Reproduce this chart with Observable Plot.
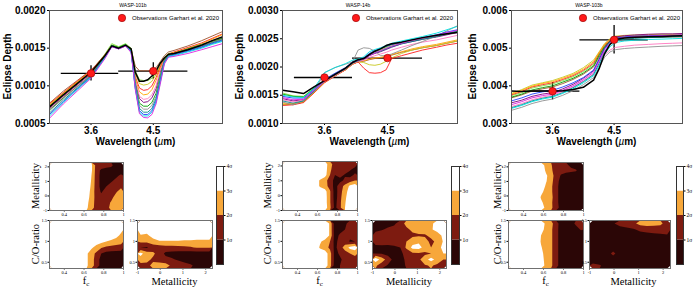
<!DOCTYPE html>
<html><head><meta charset="utf-8">
<script src="https://cdn.jsdelivr.net/npm/d3@7"></script>
<script src="https://cdn.jsdelivr.net/npm/@observablehq/plot@0.6"></script>
<style>
body{margin:0;background:#fff;}
#fig{position:relative;width:696px;height:289px;overflow:hidden;background:#fff;}
</style></head><body><div id="fig"></div><script>
// ---------------- DATA ----------------
const planetNames = ["WASP-101b", "WASP-14b", "WASP-103b"];
const waveTicks = [3.6, 4.5];
// observations (Garhart et al. 2020), eclipse depth in ppm
const bandWave = [3.6, 4.5];
const bandLo = [3.17, 4.0];
const bandHi = [4.0, 5.0];
const obs101 = [1165, 1195], err101 = [100, 110];
const obs14 = [1814, 2158], err14 = [45, 45];
const obs103 = [3858, 5222], err103 = [230, 380];
// model spectra (ppm); order: brown, lime, yellow, red, orange, purple, pink, green, gray, teal, blue, cyan, magenta
const wave101 = [3.0,3.2,3.4,3.6,3.8,3.9,4.0,4.1,4.18,4.24,4.3,4.36,4.42,4.48,4.54,4.6,4.66,4.72,4.8,5.0,5.2,5.35,5.5];
const models101 = [
 [770,930,1070,1210,1400,1520,1500,1530,1480,1260,1200,1200,1200,1210,1240,1320,1400,1450,1470,1530,1600,1660,1720],
 [740,900,1050,1190,1420,1560,1520,1560,1500,1200,1080,1070,1070,1100,1170,1280,1380,1430,1440,1480,1540,1580,1620],
 [730,890,1040,1180,1410,1540,1510,1540,1490,1160,1030,1010,1020,1060,1150,1270,1370,1420,1440,1490,1540,1590,1640],
 [760,910,1060,1200,1410,1530,1500,1530,1480,1120,970,940,950,1000,1110,1250,1370,1420,1450,1510,1570,1630,1690],
 [750,900,1050,1190,1400,1530,1500,1530,1480,1100,920,880,890,950,1070,1230,1360,1420,1440,1500,1560,1620,1680],
 [700,860,1010,1160,1390,1530,1500,1540,1470,1060,830,780,790,840,960,1180,1350,1410,1430,1480,1530,1580,1630],
 [690,850,1000,1150,1380,1520,1490,1530,1470,1070,860,820,830,880,1000,1200,1350,1410,1430,1490,1550,1600,1650],
 [680,840,990,1140,1390,1540,1510,1550,1470,1030,770,730,730,780,900,1130,1340,1410,1430,1490,1550,1590,1630],
 [670,830,990,1140,1380,1530,1500,1540,1460,1010,740,690,690,740,860,1100,1330,1400,1430,1480,1540,1580,1620],
 [640,810,970,1130,1380,1530,1500,1540,1460,990,700,650,650,700,830,1080,1320,1400,1420,1470,1520,1570,1610],
 [620,790,960,1120,1370,1520,1490,1530,1450,970,670,620,620,670,800,1060,1310,1390,1410,1460,1510,1560,1600],
 [600,780,950,1110,1370,1530,1500,1540,1450,960,650,600,600,650,780,1040,1300,1390,1400,1450,1500,1550,1590],
 [570,760,930,1100,1360,1520,1490,1530,1440,950,630,580,575,620,760,1020,1290,1380,1390,1430,1480,1520,1560]
];
const best101 = [720,880,1030,1180,1400,1530,1500,1540,1490,1180,1060,1060,1080,1130,1200,1300,1370,1420,1430,1480,1540,1600,1650];

const wave14 = [3.0,3.15,3.3,3.45,3.6,3.75,3.9,4.0,4.08,4.16,4.24,4.32,4.4,4.48,4.56,4.7,4.85,5.0,5.2,5.35,5.5];
const models14 = [
 [1330,1340,1380,1550,1730,1850,1950,2050,2090,2100,2130,2150,2160,2180,2210,2260,2300,2340,2380,2420,2460],
 [1540,1490,1480,1630,1770,1880,1980,2080,2120,2150,2230,2270,2300,2340,2380,2420,2460,2500,2540,2580,2620],
 [1340,1340,1380,1550,1730,1840,1950,2050,2090,2080,2040,2030,2050,2100,2160,2240,2300,2340,2380,2420,2460],
 [1320,1330,1370,1540,1720,1840,1950,2050,2090,1980,1900,1890,1900,1950,2150,2200,2250,2300,2350,2390,2420],
 [1360,1350,1390,1550,1730,1850,1960,2060,2100,2110,2140,2160,2170,2190,2220,2270,2320,2360,2400,2440,2480],
 [1440,1400,1420,1580,1740,1860,1970,2070,2110,2130,2200,2240,2270,2310,2350,2410,2450,2490,2530,2570,2610],
 [1420,1380,1410,1570,1740,1850,1960,2060,2100,2120,2170,2200,2230,2260,2300,2350,2400,2440,2480,2520,2560],
 [1520,1480,1470,1620,1760,1870,1970,2070,2120,2150,2230,2280,2320,2360,2400,2440,2480,2510,2550,2590,2630],
 [1380,1330,1400,1560,1900,1990,2050,2090,2300,2340,2330,2280,2200,2200,2230,2300,2380,2450,2550,2640,2730],
 [1400,1360,1400,1570,1750,1860,1970,2070,2110,2140,2210,2250,2280,2320,2360,2410,2450,2490,2540,2590,2640],
 [1480,1450,1450,1600,1780,1890,1990,2090,2130,2160,2240,2290,2330,2370,2400,2440,2480,2520,2570,2620,2660],
 [1500,1470,1460,1620,1900,1990,2060,2120,2140,2180,2270,2310,2340,2380,2420,2460,2500,2540,2600,2660,2720],
 [1460,1420,1430,1590,1750,1870,1980,2080,2120,2140,2200,2250,2290,2330,2370,2420,2470,2510,2560,2610,2650]
];
const best14 = [1590,1560,1530,1650,1760,1870,1980,2080,2130,2150,2220,2280,2320,2380,2410,2440,2480,2520,2560,2590,2610];

const wave103 = [3.0,3.15,3.3,3.45,3.6,3.75,3.9,4.05,4.2,4.28,4.36,4.44,4.52,4.65,4.8,5.0,5.2,5.35,5.5];
const models103 = [
 [3680,3760,3860,3920,3970,4060,4170,4310,4500,4760,5010,5160,5240,5270,5280,5290,5290,5300,5300],
 [3740,3820,3940,4000,4050,4140,4240,4380,4570,4830,5060,5190,5260,5290,5300,5310,5320,5330,5340],
 [3800,3900,4020,4080,4140,4230,4330,4480,4680,4900,5120,5250,5320,5340,5350,5360,5370,5370,5380],
 [3760,3850,3970,4030,4080,4170,4270,4410,4600,4850,5080,5200,5270,5290,5300,5300,5300,5310,5320],
 [3780,3880,3990,4060,4110,4200,4300,4440,4640,4880,5100,5230,5300,5320,5330,5340,5340,5350,5350],
 [3550,3620,3720,3780,3820,3920,4040,4200,4400,4700,5000,5200,5300,5330,5350,5370,5380,5380,5390],
 [3450,3530,3630,3700,3750,3850,3970,4130,4320,4560,4820,4950,5020,5050,5080,5100,5120,5130,5140],
 [3700,3780,3890,3950,4000,4100,4200,4340,4530,4800,5040,5180,5260,5280,5290,5300,5310,5310,5320],
 [3350,3430,3530,3600,3650,3750,3870,4030,4220,4480,4760,4900,4960,4990,5010,5030,5050,5060,5070],
 [3420,3500,3600,3670,3720,3820,3950,4110,4300,4600,4900,5100,5200,5240,5260,5280,5290,5300,5310],
 [3600,3680,3780,3840,3880,3970,4080,4220,4420,4700,4980,5160,5260,5300,5320,5330,5340,5340,5350],
 [3400,3480,3580,3650,3700,3800,3920,4080,4270,4540,4840,5040,5150,5190,5210,5230,5240,5250,5260],
 [3500,3580,3680,3740,3780,3880,4000,4160,4360,4640,4940,5130,5240,5280,5300,5320,5330,5340,5350]
];
const best103 = [3860,3850,3860,3860,3860,3870,3900,3960,4150,4450,4850,5100,5230,5270,5290,5300,5310,5320,5330];

// retrieval significance maps (sigma), rows listed top -> bottom
const fcDomain = [0.25, 1.0], metDomain = [-1, 2.3], coDomain = [0.35, 1.5];
const fcTicks = [0.4, 0.6, 0.8, 1], metTicks = [-1, 0, 1, 2], coTicks = [0.5, 1, 1.5];
const sigmaFloors = [0, 1, 2, 3];
const sigmaTicks = [1, 2, 3, 4];

const g101FcMet = [
 [4,4,4,4,4,4,4,4,3.2,1.6,1.5,1.4,1.2,0.6,0.5],
 [4,4,4,4,4,4,4,4,3.2,1.5,0.8,0.6,0.6,0.5,0.5],
 [4,4,4,4,4,4,4,4,3.0,1.5,0.7,0.5,0.6,0.8,1.2],
 [4,4,4,4,4,4,4,4,2.9,1.5,0.7,0.6,0.9,1.3,1.5],
 [4,4,4,4,4,4,4,3.8,2.8,1.5,0.7,1.0,1.4,1.6,1.8],
 [4,4,4,4,4,4,4,3.6,2.7,1.5,0.9,1.4,1.6,1.9,2.4],
 [4,4,4,4,4,4,4,3.5,2.6,1.6,1.3,1.5,1.7,2.4,2.6],
 [4,4,4,4,4,4,4,3.3,2.5,1.6,1.5,1.6,2.1,2.6,2.6],
 [4,4,4,4,4,4,4,3.2,2.4,1.6,1.5,1.6,2.3,2.6,2.6]
];
const g101FcCo = [
 [4,4,4,4,4,4,4,4,4,4,4,4,4,4,3.6],
 [4,4,4,4,4,4,4,4,4,4,4,4,4,3.7,3.3],
 [4,4,4,4,4,4,4,4,4,4,4,4,3.6,3.3,2.8],
 [4,4,4,4,4,4,4,4,4,3.6,3.3,3.0,2.8,2.6,2.4],
 [4,4,4,4,4,4,4,3.8,3.2,2.6,2.1,1.8,1.7,1.6,1.5],
 [4,4,4,4,4,4,4,3.2,2.4,1.8,1.0,0.7,0.6,0.6,0.6],
 [4,4,4,4,4,4,4,3.2,2.4,1.6,0.6,0.4,0.4,0.4,0.4],
 [4,4,4,4,4,4,4,3.2,2.4,1.6,0.6,0.4,0.4,0.4,0.4]
];
const g101MetCo = [
 [4,4,4,4,4,4,4,4,4,4,4,4],
 [3.6,3.5,3.8,4,4,4,4,4,4,4,4,4],
 [2.9,2.8,3.4,3.7,3.7,3.7,3.7,3.7,3.7,3.7,3.7,3.7],
 [2.2,2.2,2.6,2.9,2.9,2.9,2.9,2.8,2.8,2.7,2.7,2.7],
 [1.0,0.9,1.4,1.5,1.6,1.6,1.7,1.8,1.9,2.1,2.1,2.1],
 [3.3,2.5,2.2,1.5,0.8,0.7,0.6,0.5,0.5,0.4,0.4,0.4],
 [2.6,2.3,1.8,1.5,1.3,1.1,0.9,0.7,0.6,0.5,0.4,0.4],
 [1.6,1.7,2.3,2.5,2.4,1.8,1.5,1.3,1.1,0.8,0.5,0.4]
];
const g14FcMet = [
 [4,4,4,4,4,4,4,4,3.5,2.4,1.5,1.5,1.5,1.5,1.5],
 [4,4,4,4,4,4,4,4,3.5,2.2,1.4,1.4,1.4,1.1,0.6],
 [4,4,4,4,4,4,4,4,3.4,2.0,1.0,1.3,0.9,0.6,1.2],
 [4,4,4,4,4,4,4,2.8,2.3,1.6,0.6,0.7,1.2,1.6,2.0],
 [4,4,4,4,4,4,4,2.8,2.4,1.6,0.6,1.5,2.3,3.2,3.6],
 [4,4,4,4,4,4,4,3.8,3.4,2.1,0.5,1.6,2.6,3.5,4],
 [4,4,4,4,4,4,4,4,3.5,2.1,0.5,1.7,2.8,3.6,4],
 [4,4,4,4,4,4,4,4,3.5,2.1,0.6,1.8,2.9,3.8,4],
 [4,4,4,4,4,4,4,4,3.6,2.2,0.7,1.8,3.0,4,4]
];
const g14FcCo = [
 [4,4,4,4,4,4,4,4,4,2.8,0.4,0.5,0.8,1.4,1.6],
 [4,4,4,4,4,4,4,4,4,2.8,0.4,0.6,1.0,1.5,1.6],
 [4,4,4,4,4,4,4,4,4,2.8,0.5,1.2,1.5,1.2,1.4],
 [4,4,4,4,4,4,4,3.2,2.5,2.0,0.6,1.5,1.5,0.9,1.0],
 [4,4,4,4,4,4,4,2.8,2.4,1.8,0.7,1.6,2.4,3.3,3.6],
 [4,4,4,4,4,4,4,4,3.6,2.4,0.6,1.2,1.6,2.0,2.3],
 [4,4,4,4,4,4,4,4,3.6,2.4,0.6,0.8,1.4,1.6,1.6],
 [4,4,4,4,4,4,4,4,3.6,2.4,0.5,1.0,1.5,1.7,1.7]
];
const g14MetCo = [
 [0.5,0.5,0.6,0.8,1.5,2.3,2.5,2.6,2.6,2.8,3.4,3.8],
 [0.7,0.9,1.2,1.4,1.6,1.8,2.2,2.3,2.4,2.9,3.3,3.6],
 [1.5,1.6,1.6,1.6,1.7,1.7,1.8,1.9,1.9,2.2,2.6,3.2],
 [1.6,1.7,1.7,1.7,1.8,2.0,2.6,2.8,2.3,1.8,2.2,3.1],
 [0.6,0.6,0.5,0.7,1.0,2.2,3.3,3.4,2.6,2.0,2.4,3.4],
 [1.0,0.9,0.7,0.6,0.8,1.3,1.8,1.9,1.8,2.0,2.3,3.0],
 [3.6,2.6,1.5,0.7,0.6,1.2,1.6,1.8,2.6,3.4,2.6,2.0],
 [2.2,1.4,0.9,0.5,0.6,1.1,1.5,1.6,1.9,2.1,1.8,1.6]
];
const g103FcMet = [
 [4,4,4,4,4,4,3.7,2.6,2.1,1.5,1.4,1.2,0.8,0.5,0.4],
 [4,4,4,4,4,4,3.9,2.8,2.2,1.5,1.3,1.3,1.2,1.1,0.4],
 [4,4,4,4,4,4,4,3.2,2.4,1.6,0.9,0.6,0.5,0.4,0.4],
 [4,4,4,4,4,4,4,3.1,2.3,1.5,0.6,0.4,0.4,0.4,0.4],
 [4,4,4,4,4,4,3.8,2.8,2.2,1.4,0.5,0.4,0.4,0.4,0.4],
 [4,4,4,4,4,4,3.3,2.6,2.2,1.4,0.5,0.4,0.4,0.4,0.4],
 [4,4,4,4,4,4,2.9,2.5,2.3,1.4,0.5,0.4,0.4,0.4,0.4],
 [4,4,4,4,4,4,3.2,2.6,2.2,1.4,0.5,0.4,0.4,0.4,0.4],
 [4,4,4,4,4,4,3.6,2.7,2.2,1.5,0.6,0.4,0.4,0.4,0.4]
];
const g103FcCo = [
 [4,4,4,4,4,4,3.8,2.7,2.3,1.5,0.5,0.5,0.6,1.2,1.5],
 [4,4,4,4,4,4,3.5,2.6,2.2,1.4,0.5,0.4,0.4,0.6,1.1],
 [4,4,4,4,4,4,3.0,2.5,2.2,1.4,0.5,0.4,0.4,0.4,0.4],
 [4,4,4,4,4,4,2.9,2.5,2.2,1.4,0.5,0.4,0.4,0.4,0.4],
 [4,4,4,4,4,4,3.1,2.5,2.2,1.4,0.5,0.4,0.4,0.4,0.4],
 [4,4,4,4,4,4,3.3,2.6,2.2,1.4,0.5,0.4,0.4,0.4,0.4],
 [4,4,4,4,4,4,3.5,2.6,2.2,1.4,0.5,0.4,0.4,0.4,0.4],
 [4,4,4,4,4,4,3.6,2.7,2.2,1.4,0.5,0.4,0.4,0.4,0.4]
];
const g103MetCo = [
 [0.5,0.5,0.6,0.9,1.4,1.6,1.8,2.3,2.4,2.3,2.2,1.6],
 [0.4,0.4,0.4,0.4,0.5,0.7,0.9,1.2,1.4,1.5,1.5,1.5],
 [0.4,0.4,0.4,0.4,0.4,0.4,0.5,0.6,0.6,0.7,0.8,0.9],
 [0.4,0.4,0.4,0.4,0.4,0.4,0.4,0.4,0.5,0.5,0.6,0.7],
 [0.4,0.4,0.4,0.4,0.4,0.4,0.4,0.4,0.4,0.4,0.4,0.4],
 [0.4,0.4,0.4,1.3,0.4,0.4,0.4,0.4,0.4,0.4,0.4,0.4],
 [0.4,0.4,0.4,0.4,0.4,0.4,0.4,0.4,0.4,0.4,0.4,0.4],
 [1.3,1.1,0.6,0.4,0.4,0.4,0.4,0.4,0.4,0.4,0.4,0.4]
];

// ---------------- STYLES ----------------
const modelColors = ["#a0522d","#7fe040","#c8c820","#ff1f1f","#ffa500","#800080","#ff77c0","#00a000","#909090","#008b8b","#2040ff","#00e0e0","#e020e0"];
const sigmaColors = ["#2b0606","#7d1b10","#f7a73a","#ffffff"];
const sansBold = {fontFamily: "'Liberation Sans', Arial, sans-serif", fontWeight: "bold", fontSize: "10px"};
const serif = {fontFamily: "'Liberation Serif', 'Times New Roman', serif", fontSize: "4.5px"};

const fig = document.getElementById("fig");
function place(svg, left, top) {
  svg.style.position = "absolute";
  svg.style.left = left + "px";
  svg.style.top = top + "px";
  svg.style.background = "transparent";
  svg.style.overflow = "visible";
  svg.style.maxWidth = "none";
  fig.appendChild(svg);
}

// ---------------- TOP ROW ----------------
const topPanels = [
  {left: 0, ml: 49, mr: 10, wave: wave101, models: models101, best: best101, obs: obs101, err: err101, yDomain: [500, 2000], yTicks: [500, 1000, 1500, 2000], dec: 4},
  {left: 232, ml: 50, mr: 7, wave: wave14, models: models14, best: best14, obs: obs14, err: err14, yDomain: [1000, 3000], yTicks: [1000, 1500, 2000, 2500, 3000], dec: 4},
  {left: 464, ml: 47, mr: 14, wave: wave103, models: models103, best: best103, obs: obs103, err: err103, yDomain: [3000, 6000], yTicks: [3000, 4000, 5000, 6000], dec: 3}
];
topPanels.forEach(p => {
  const marks = [];
  const obs = bandWave.map((w, i) => ({w, lo: bandLo[i], hi: bandHi[i], d: p.obs[i], e: p.err[i]}));
  marks.push(Plot.ruleY(obs, {x1: "lo", x2: "hi", y: "d", stroke: "black", strokeWidth: 1.3}));
  marks.push(Plot.ruleX(obs, {x: "w", y1: o => o.d - o.e, y2: o => o.d + o.e, stroke: "black", strokeWidth: 1.3}));
  p.models.forEach((vals, k) => {
    marks.push(Plot.line(vals.map((d, i) => ({w: p.wave[i], d})), {x: "w", y: "d", stroke: modelColors[k], strokeWidth: 0.9, clip: true}));
  });
  marks.push(Plot.line(p.best.map((d, i) => ({w: p.wave[i], d})), {x: "w", y: "d", stroke: "black", strokeWidth: 1.5, clip: true}));
  marks.push(Plot.dot(obs, {x: "w", y: "d", r: 3.8, fill: "#ff1a1a", stroke: "#900000", strokeWidth: 0.6}));
  marks.push(Plot.frame({stroke: "#555", strokeWidth: 1}));
  const svg = Plot.plot({
    width: 232, height: 150, marginLeft: p.ml, marginRight: p.mr, marginTop: 10, marginBottom: 27,
    x: {domain: [3.0, 5.5], ticks: waveTicks, tickFormat: d => d.toFixed(1), tickSize: 2, tickPadding: 1.5, label: null},
    y: {domain: p.yDomain, ticks: p.yTicks, tickFormat: d => (d / 1e6).toFixed(p.dec), tickSize: 2, tickPadding: 2, label: null},
    style: sansBold,
    marks
  });
  place(svg, p.left, 0);
});

// ---------------- BOTTOM ROW ----------------
const fmt = d => String(d);
function contourPanel(grid, xDom, yDom, xTicks, yTicks, box) {
  const rows = grid.length, cols = grid[0].length;
  const flat = grid.slice().reverse().flat();
  const ml = 24, mr = 4, mt = 4, mb = 12;
  const w = box[1] - box[0], h = box[3] - box[2];
  const svg = Plot.plot({
    width: w + ml + mr, height: h + mt + mb, marginLeft: ml, marginRight: mr, marginTop: mt, marginBottom: mb,
    x: {domain: xDom, ticks: xTicks, tickFormat: fmt, tickSize: 1.5, tickPadding: 1, label: null},
    y: {domain: yDom, ticks: yTicks, tickFormat: fmt, tickSize: 1.5, tickPadding: 1, label: null},
    color: {type: "threshold", domain: [1, 2, 3], range: sigmaColors},
    style: serif,
    marks: [
      Plot.contour(flat, {width: cols, height: rows, x1: xDom[0], x2: xDom[1], y1: yDom[0], y2: yDom[1], fill: Plot.identity, thresholds: sigmaFloors, clip: true}),
      Plot.frame({stroke: "#707070", strokeWidth: 1})
    ]
  });
  place(svg, box[0] - ml, box[2] - mt);
}
function colorbar(box) {
  const bands = sigmaFloors.map(lo => ({lo, hi: lo + 1}));
  const w = box[1] - box[0], h = box[3] - box[2];
  const svg = Plot.plot({
    width: w + 16, height: h + 8, marginLeft: 0, marginRight: 16, marginTop: 4, marginBottom: 4,
    y: {domain: [0, 4], ticks: sigmaTicks, tickFormat: d => d + "σ", axis: "right", tickSize: 1.5, tickPadding: 1.5, label: null},
    color: {type: "threshold", domain: [1, 2, 3], range: sigmaColors},
    style: {fontFamily: "'Liberation Serif', serif", fontSize: "5.5px"},
    marks: [
      Plot.rect(bands, {y1: "lo", y2: "hi", fill: "lo"}),
      Plot.frame({stroke: "#333", strokeWidth: 1})
    ]
  });
  place(svg, box[0], box[2] - 4);
}
const groups = [
  {fm: g101FcMet, fc: g101FcCo, mc: g101MetCo, up: [49,123,162,210], ll: [49,123,220,268], lr: [137,212,220,268], cb: [216,223,166,264]},
  {fm: g14FcMet, fc: g14FcCo, mc: g14MetCo, up: [282,357,161,210], ll: [282,357,220,268], lr: [372,446,220,268], cb: [451,459,166,264]},
  {fm: g103FcMet, fc: g103FcCo, mc: g103MetCo, up: [508,583,162,210], ll: [508,583,220,268], lr: [589,670,220,268], cb: [676,683,166,264]}
];
groups.forEach(g => {
  contourPanel(g.fm, fcDomain, metDomain, fcTicks, metTicks, g.up);
  contourPanel(g.fc, fcDomain, coDomain, fcTicks, coTicks, g.ll);
  contourPanel(g.mc, metDomain, coDomain, metTicks, coTicks, g.lr);
  colorbar(g.cb);
});

// ---------------- LABELS / LEGENDS ----------------
const ov = d3.create("svg").attr("width", 696).attr("height", 289)
  .style("position", "absolute").style("left", "0px").style("top", "0px").style("overflow", "visible");
const titleX = [133, 358, 589];
const yLabX = [7.5, 239.5, 472];
const xLabX = [135.5, 369.5, 596.5];
const legDotX = [122, 356, 583];
planetNames.forEach((name, i) => {
  ov.append("text").attr("x", titleX[i]).attr("y", 5.5).attr("dy", "0.35em").attr("text-anchor", "middle")
    .style("font-family", "'Liberation Sans', Arial, sans-serif").style("font-size", "5px").text(name);
  ov.append("text").attr("transform", `translate(${yLabX[i]},66.5) rotate(-90)`).attr("dy", "0.35em").attr("text-anchor", "middle")
    .style("font-family", "'Liberation Sans', Arial, sans-serif").style("font-weight", "bold").style("font-size", "10px").text("Eclipse Depth");
  const xl = ov.append("text").attr("x", xLabX[i]).attr("y", 141.5).attr("dy", "0.35em").attr("text-anchor", "middle")
    .style("font-family", "'Liberation Sans', Arial, sans-serif").style("font-weight", "bold").style("font-size", "10px");
  xl.append("tspan").text("Wavelength (");
  xl.append("tspan").style("font-style", "italic").style("font-weight", "normal").text("µ");
  xl.append("tspan").text("m)");
  ov.append("circle").attr("cx", legDotX[i]).attr("cy", 18).attr("r", 3.7).attr("fill", "#ff1a1a").attr("stroke", "#900000").attr("stroke-width", 0.6);
  ov.append("text").attr("x", legDotX[i] + 10).attr("y", 18).attr("dy", "0.35em")
    .style("font-family", "'Liberation Sans', Arial, sans-serif").style("font-size", "6px").text("Observations Garhart et al. 2020");
});
const serifLab = sel => sel.style("font-family", "'Liberation Serif', 'Times New Roman', serif").style("font-size", "10.5px");
const vLabX = [35, 267, 497];
groups.forEach((g, i) => {
  serifLab(ov.append("text").attr("transform", `translate(${vLabX[i]},${(g.up[2] + g.up[3]) / 2}) rotate(-90)`).attr("dy", "0.35em").attr("text-anchor", "middle")).text("Metallicity");
  serifLab(ov.append("text").attr("transform", `translate(${vLabX[i]},${(g.ll[2] + g.ll[3]) / 2}) rotate(-90)`).attr("dy", "0.35em").attr("text-anchor", "middle")).text("C/O-ratio");
  const fl = serifLab(ov.append("text").attr("x", (g.ll[0] + g.ll[1]) / 2).attr("y", 280).attr("dy", "0.35em").attr("text-anchor", "middle"));
  fl.append("tspan").text("f");
  fl.append("tspan").attr("dy", "2").style("font-size", "7px").text("c");
  serifLab(ov.append("text").attr("x", (g.lr[0] + g.lr[1]) / 2 + (i === 2 ? 4 : 0)).attr("y", 281).attr("dy", "0.35em").attr("text-anchor", "middle")).text("Metallicity");
});
fig.appendChild(ov.node());
</script></body></html>
